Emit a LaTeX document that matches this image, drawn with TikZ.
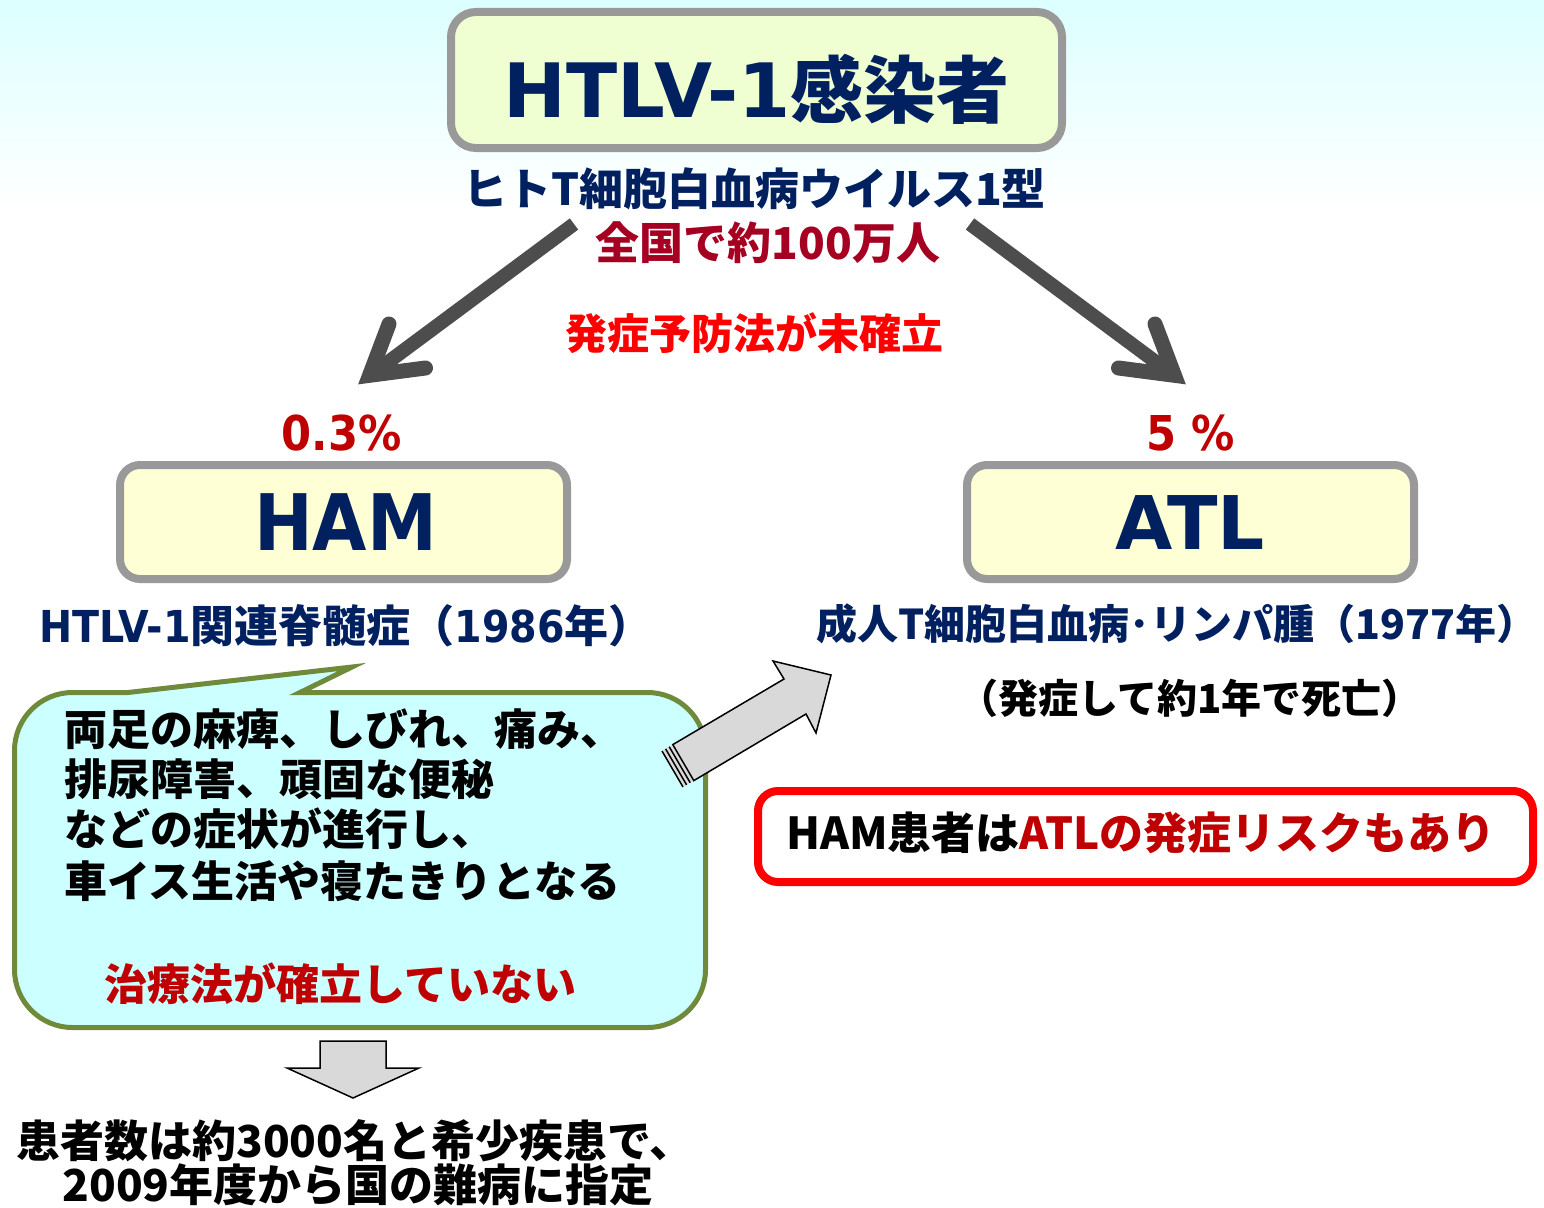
\documentclass[tikz,border=0pt]{standalone}
\usepackage{fontspec}
\newfontfamily\cjk{Noto Sans CJK JP}
\newfontfamily\lat{DejaVu Sans}[FakeStretch=0.9]
\newfontfamily\latw{DejaVu Sans}
\definecolor{navy}{HTML}{002060}
\definecolor{wine}{HTML}{A50021}
\definecolor{dred}{HTML}{C00000}
\definecolor{bgray}{HTML}{999999}
\definecolor{topfill}{HTML}{F0FFD2}
\definecolor{boxfill}{HTML}{FFFFD5}
\definecolor{arrgray}{HTML}{4D4D4D}
\definecolor{bubfill}{HTML}{CCFFFF}
\definecolor{bubline}{HTML}{6E8A3A}
\definecolor{blockfill}{HTML}{D9D9D9}
\definecolor{bgtop}{HTML}{DCFFFF}
\newcommand\jf[1]{\cjk\bfseries\fontsize{#1}{#1}\selectfont}
\newcommand\lf[1]{\lat\bfseries\fontsize{#1}{#1}\selectfont}
\newcommand\lw[1]{\latw\bfseries\fontsize{#1}{#1}\selectfont}
\begin{document}
\begin{tikzpicture}[x=1pt,y=-1pt,
  txt/.style={inner sep=0pt, outer sep=0pt, anchor=base},
  txtw/.style={inner sep=0pt, outer sep=0pt, anchor=base west},
  graybox/.style={draw=bgray, line width=8pt, inner sep=0pt},
  bigshaft/.style={draw=arrgray, line width=14pt},
  bighead/.style={draw=arrgray, line width=15pt, line cap=round, line join=miter},
  block/.style={fill=blockfill, draw=black, line width=1.5pt, line join=miter},
  bubble/.style={fill=bubfill, draw=bubline, line width=5pt},
]
\useasboundingbox (0,0) rectangle (1544,1207);
\fill[white] (0,0) rectangle (1544,1207);
\shade[top color=bgtop, bottom color=white] (0,0) rectangle (1544,210);

% top box
\node[graybox, fill=topfill, rounded corners=25pt, minimum width=611pt, minimum height=136pt] (top) at (756.5,80) {};
\node[txt, text=navy] (title) at (756.5,117) {\lw{75}HTLV-1\jf{73}感染者};
\node[txt, text=navy] (sub) at (754.5,205) {\jf{44}ヒトT細胞白血病ウイルス1型};
\node[txt, text=wine] (pop) at (768,259) {\jf{44}全国で約100万人};
\node[txt, text=red] (prev) at (754.5,349) {\jf{42}発症予防法が未確立};

% big arrows
\coordinate (Ls) at (574,224);
\coordinate (Le) at (372,374);
\coordinate (Lv) at (369.6,375.3);
\coordinate (Lu) at (389,324);
\coordinate (Ll) at (425.5,368);
\coordinate (Rs) at (970,224);
\coordinate (Re) at (1172,374);
\coordinate (Rv) at (1174.4,375.3);
\coordinate (Ru) at (1155,324);
\coordinate (Rl) at (1118.5,368);
\draw[bigshaft] (Ls) -- (Le);
\draw[bighead] (Lu) -- (Lv) -- (Ll);
\draw[bigshaft] (Rs) -- (Re);
\draw[bighead] (Ru) -- (Rv) -- (Rl);

% percentages
\node[txt, text=dred] (pham) at (341.5,450) {\lf{48}0.3\%};
\node[txt, text=dred] (patl) at (1191,450) {\lf{48}5 \%};

% HAM / ATL boxes
\node[graybox, fill=boxfill, rounded corners=20pt, minimum width=447pt, minimum height=114pt] (ham) at (343.5,522) {};
\node[txt, text=navy] (hamt) at (345.5,550) {\lf{78}HAM};
\node[graybox, fill=boxfill, rounded corners=20pt, minimum width=447pt, minimum height=114pt] (atl) at (1190.5,522) {};
\node[txt, text=navy] (atlt) at (1190.5,549) {\lw{74}ATL};

\node[txt, text=navy] (hamname) at (346,642) {\lf{44}HTLV-1\jf{44}関連脊髄症（\lf{44}1986\jf{44}年）};
\node[txt, text=navy] (atlname) at (1177,639) {\jf{41}成人T細胞白血病･リンパ腫（1977年）};
\node[txt, text=black] (death) at (1190,713) {\jf{40}（発症して約1年で死亡）};

% risk box
\node[draw=red, line width=8pt, rounded corners=20pt, fill=white, inner sep=0pt, minimum width=775pt, minimum height=91pt] (risk) at (1145.5,836.5) {};
\node[txt, text=black] (riskt) at (1141,849) {\jf{44}HAM患者は{\color{dred}ATLの発症リスクもあり}};

% speech bubble
\draw[bubble] (128,692.5) -- (352,667) -- (300,692.5) -- (647.5,692.5)
  .. controls (679.5,692.5) and (705.5,718.5) .. (705.5,750.5) -- (705.5,969.5)
  .. controls (705.5,1001.5) and (679.5,1027.5) .. (647.5,1027.5) -- (72.5,1027.5)
  .. controls (40.5,1027.5) and (14.5,1001.5) .. (14.5,969.5) -- (14.5,750.5)
  .. controls (14.5,718.5) and (40.5,692.5) .. (72.5,692.5) -- cycle;
\node[txtw] (l1) at (64,745) {\jf{43}両足の麻痺、しびれ、痛み、};
\node[txtw] (l2) at (64,795) {\jf{43}排尿障害、頑固な便秘};
\node[txtw] (l3) at (64,845) {\jf{43}などの症状が進行し、};
\node[txtw] (l4) at (64,897) {\jf{43}車イス生活や寝たきりとなる};
\node[txt, text=dred] (cure) at (340.5,1000) {\jf{43}治療法が確立していない};

% gray arrow to ATL
\fill[blockfill] (662,751) -- (672.8,744.6) -- (693.8,780.6) -- (683,787) -- cycle;
\draw[black, line width=1.5pt] (662,751) -- (683,787);
\draw[black, line width=1.5pt] (665.6,748.9) -- (686.6,784.9);
\draw[black, line width=1.5pt] (669.2,746.7) -- (690.2,782.7);
\draw[block] (672.8,744.6) -- (784,679) -- (773,661) -- (831,675) -- (816,733) -- (806,714) -- (693.8,780.6) -- cycle;

% down arrow
\draw[block] (320,1041) -- (386,1041) -- (386,1068) -- (419,1068) -- (353,1098) -- (287,1068) -- (320,1068) -- cycle;

% bottom text
\node[txt, text=black] (b1) at (355,1157) {\jf{44}患者数は約3000名と希少疾患で、};
\node[txt, text=black] (b2) at (358,1201) {\jf{44}2009年度から国の難病に指定};
\end{tikzpicture}
\end{document}
